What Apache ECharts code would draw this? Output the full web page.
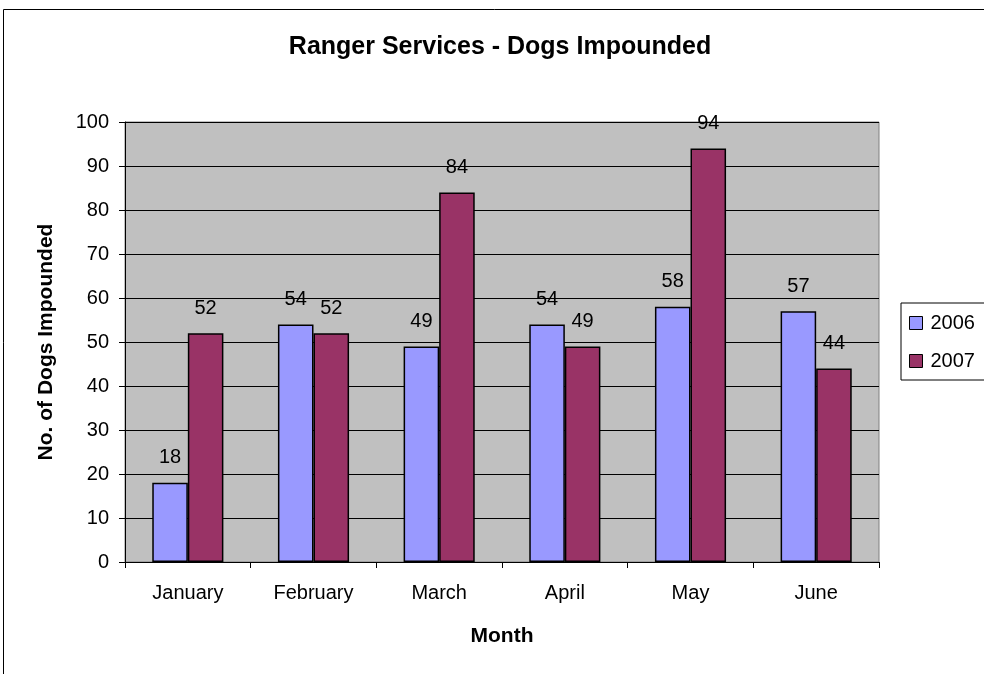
<!DOCTYPE html>
<html>
<head>
<meta charset="utf-8">
<title>Ranger Services - Dogs Impounded</title>
<script src="https://cdn.jsdelivr.net/npm/echarts@6/dist/echarts.min.js"></script>
<style>
  html, body { margin: 0; padding: 0; background: #fff; }
  #chart { width: 984px; height: 674px; }
</style>
</head>
<body>
<div id="chart"></div>
<script>
// Monthly impound counts
const months = ['January', 'February', 'March', 'April', 'May', 'June'];
const dogs2006 = [18, 54, 49, 54, 58, 57];
const dogs2007 = [52, 52, 84, 49, 94, 44];
const yTicks = { min: 0, max: 100, step: 10 };

const FONT = "'Liberation Sans', Arial, sans-serif";

const chart = echarts.init(document.getElementById('chart'), null, { renderer: 'canvas' });

function barSeries(name, data, color) {
  return {
    name: name,
    type: 'bar',
    data: data,
    barWidth: '28.3%',
    barGap: '0%',
    itemStyle: { color: color, borderColor: '#000', borderWidth: 1.5 },
    label: {
      show: true,
      position: 'top',
      distance: 15,
      color: '#000',
      fontFamily: FONT,
      fontSize: 20
    }
  };
}

chart.setOption({
  animation: false,
  backgroundColor: '#fff',
  textStyle: { fontFamily: FONT, color: '#000' },
  title: {
    text: 'Ranger Services - Dogs Impounded',
    left: 500,
    top: 35,
    textAlign: 'center',
    padding: 0,
    textStyle: { fontFamily: FONT, fontSize: 25, fontWeight: 'bold', color: '#000' }
  },
  graphic: [{
    type: 'rect',
    silent: true,
    z: -1,
    shape: { x: 3.5, y: 9.5, width: 1100, height: 800 },
    style: { fill: null, stroke: '#000', lineWidth: 1 }
  }],
  legend: {
    orient: 'vertical',
    left: 901,
    top: 303,
    padding: [10, 30, 9, 8],
    itemGap: 18,
    itemWidth: 13,
    itemHeight: 13,
    borderColor: '#000',
    borderWidth: 1,
    icon: 'rect',
    textStyle: { fontFamily: FONT, fontSize: 20, color: '#000', padding: [0, 0, 0, 3] },
    data: [
      { name: '2006', itemStyle: { borderColor: '#000', borderWidth: 1 } },
      { name: '2007', itemStyle: { borderColor: '#000', borderWidth: 1 } }
    ]
  },
  grid: {
    left: 125,
    right: 105,
    top: 122,
    bottom: 112,
    show: true,
    backgroundColor: '#C0C0C0',
    borderColor: '#808080',
    borderWidth: 1
  },
  xAxis: {
    type: 'category',
    data: months,
    name: 'Month',
    nameLocation: 'middle',
    nameGap: 64,
    nameTextStyle: { fontFamily: FONT, fontSize: 21, fontWeight: 'bold', color: '#000' },
    axisLine: { lineStyle: { color: '#000', width: 1 } },
    axisTick: { show: true, length: 6, lineStyle: { color: '#000' } },
    axisLabel: { fontFamily: FONT, fontSize: 20, color: '#000', margin: 21 }
  },
  yAxis: {
    type: 'value',
    min: yTicks.min,
    max: yTicks.max,
    interval: yTicks.step,
    name: 'No. of Dogs Impounded',
    nameLocation: 'middle',
    nameGap: 68,
    nameRotate: 90,
    nameTextStyle: { fontFamily: FONT, fontSize: 21, fontWeight: 'bold', color: '#000' },
    axisLine: { show: true, lineStyle: { color: '#000', width: 1 } },
    axisTick: { show: true, length: 6, lineStyle: { color: '#000' } },
    axisLabel: { fontFamily: FONT, fontSize: 20, color: '#000', margin: 16 },
    splitLine: { show: true, lineStyle: { color: '#000', width: 1 } }
  },
  series: [
    barSeries('2006', dogs2006, '#9999FF'),
    barSeries('2007', dogs2007, '#993366')
  ]
});
</script>
</body>
</html>
